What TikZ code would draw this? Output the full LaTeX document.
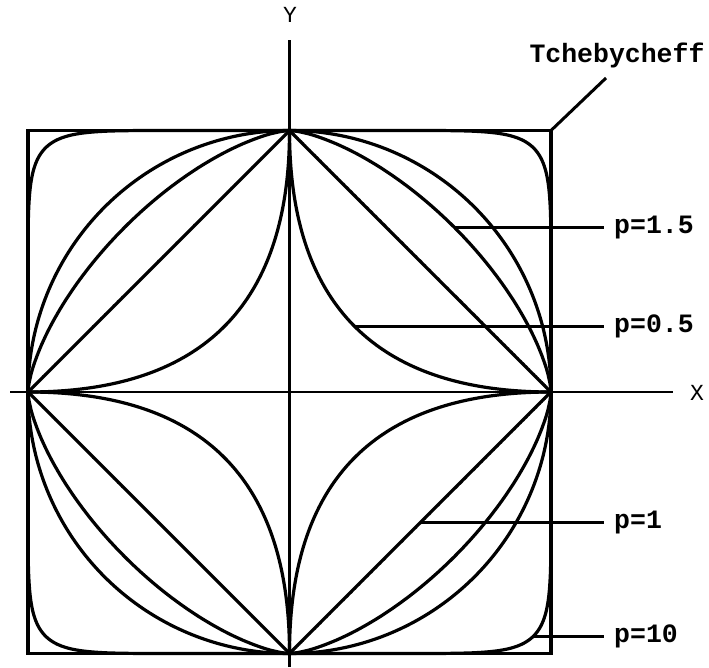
\documentclass[tikz,border=0pt]{standalone}
\usepackage{fontspec}
\setmonofont{Liberation Mono}
\begin{document}
\begin{tikzpicture}[x=1pt,y=1pt,
  curve/.style={line width=3.2pt,line join=round},
  axis/.style={line width=2.2pt},
  leader/.style={line width=3pt},
  lab/.style={font=\ttfamily\bfseries\fontsize{26.5}{26.5}\selectfont,inner xsep=10pt,inner ysep=2pt,anchor=west},
  axlab/.style={font=\ttfamily\fontsize{23}{23}\selectfont,inner sep=0pt}]
\useasboundingbox (0,0) rectangle (709,667);
\def\R{261.5}
\coordinate (O) at (289.5,275);
\coordinate (lx) at (604,0);
% axes
\coordinate (xa) at (10,275);
\coordinate (xb) at (673,275);
\coordinate (ya) at (289.5,0);
\coordinate (yb) at (289.5,627);
\draw[axis] (xa) -- (xb);
\draw[axis] (ya) -- (yb);
\node[axlab] (X) at (697,274) {X};
\node[axlab] (Y) at (290,652) {Y};
\begin{scope}[shift={(O)}]
  % Tchebycheff square
  \draw[curve,line join=miter] (-\R,-\R) rectangle (\R,\R);
  \coordinate (cT) at (\R,\R);
  % superellipses |x|^p+|y|^p=1, exponent q=2/p
  \foreach \q in {4,2,1.33333,1,0.2}{
    \foreach \sx/\sy in {1/1,-1/1,-1/-1,1/-1}{
      \draw[curve] (\sx*\R,0) -- plot[domain=0.02:89.98,samples=181,variable=\t]
        ({\sx*\R*cos(\t)^\q},{\sy*\R*sin(\t)^\q}) -- (0,\sy*\R);
    }
  }
  \coordinate (c15) at (164.7,164.7);
  \coordinate (c05) at (65.4,65.4);
  \coordinate (c1) at (130.75,-130.75);
  \coordinate (c10) at (244,-244);
\end{scope}
% labels and leaders
\node[lab] (l15) at (c15 -| lx) {p=1.5};
\node[lab] (l05) at (c05 -| lx) {p=0.5};
\node[lab] (l1) at (c1 -| lx) {p=1};
\node[lab] (l10) at (c10 -| lx) {p=10};
\node[lab,anchor=center,inner xsep=2pt] (lT) at (617,612) {Tchebycheff};
\coordinate (tT) at (606,589);
\draw[leader] (c15) -- (l15.west);
\draw[leader] (c05) -- (l05.west);
\draw[leader] (c1) -- (l1.west);
\draw[leader] (c10) -- (l10.west);
\draw[leader] (cT) -- (tT);
\end{tikzpicture}
\end{document}
